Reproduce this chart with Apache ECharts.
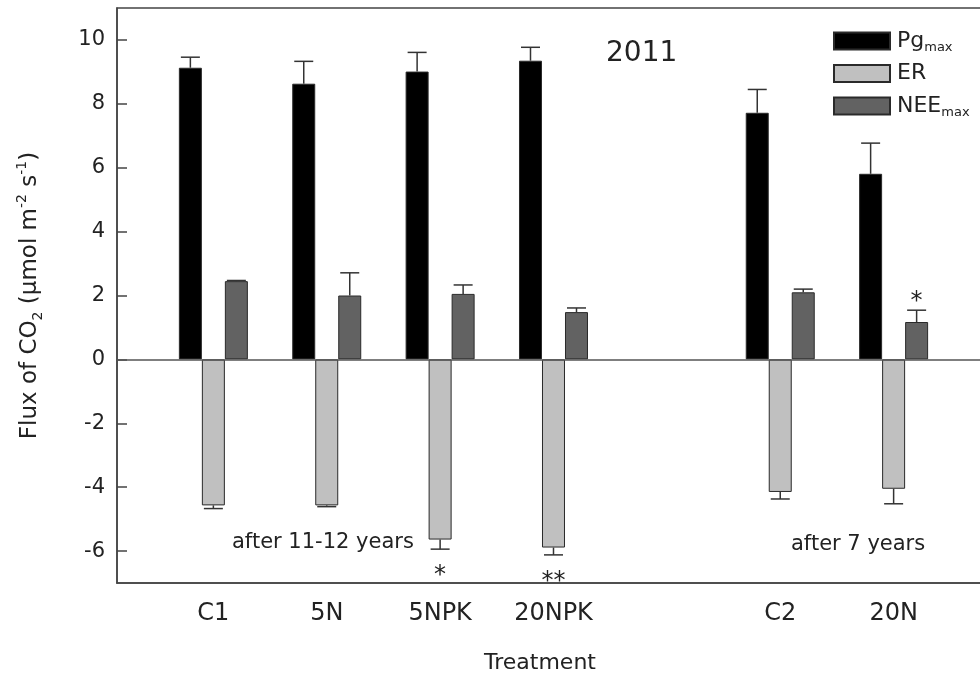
<!DOCTYPE html>
<html>
<head>
<meta charset="utf-8">
<script src="https://cdn.jsdelivr.net/npm/echarts@6/dist/echarts.min.js"></script>
<style>html,body{margin:0;padding:0;background:#fff}#chart{width:980px;height:676px}</style>
</head>
<body>
<div id="chart"></div>
<script>
// ---- data ----
const xCategories = ['C1', '5N', '5NPK', '20NPK', '', 'C2', '20N'];
const pgValues  = [9.13, 8.63, 9.01, 9.35, null, 7.72, 5.81];
const pgErrTop  = [9.46, 9.33, 9.61, 9.77, null, 8.45, 6.77];
const erValues  = [-4.57, -4.57, -5.64, -5.89, null, -4.15, -4.05];
const erErrEnd  = [-4.67, -4.61, -5.94, -6.12, null, -4.37, -4.52];
const neeValues = [2.45, 2.00, 2.05, 1.48, null, 2.10, 1.17];
const neeErrTop = [2.47, 2.71, 2.33, 1.61, null, 2.20, 1.54];
const erSig  = ['', '', '*', '**', '', '', ''];
const neeSig = ['', '', '', '', '', '', '*'];
const yTicks = [-6, -4, -2, 0, 2, 4, 6, 8, 10];
const seriesNames = ['Pgmax', 'ER', 'NEEmax'];
const legendLabels = { Pgmax: 'Pg{sub|max}', ER: 'ER', NEEmax: 'NEE{sub|max}' };
const yearText = '2011';
const groupNotes = ['after 11-12 years', 'after 7 years'];

// ---- helpers ----
const FONT = 'DejaVu Sans';
const TXT = '#222';
const slotOf = i => i + 1;
const xTickValues = xCategories.map((c, i) => c ? slotOf(i) : null).filter(v => v !== null);
function pairs(arr) { return arr.map((v, i) => v === null ? null : [slotOf(i), v]).filter(Boolean); }
function errData(vals, ends, sig) {
  return vals.map((v, i) => v === null ? null : [slotOf(i), v, ends[i], sig ? sig[i] : '']).filter(Boolean);
}
const BAR_W = 23;
function errSeries(data, dx, sigDir) {
  return {
    type: 'custom', silent: true, z: 5,
    data: data,
    encode: { x: 0, y: [1, 2] },
    renderItem: function (params, api) {
      const x = api.value(0);
      const p0 = api.coord([x, api.value(1)]);
      const p1 = api.coord([x, api.value(2)]);
      const cx = p0[0] + dx;
      const half = 9.5;
      const children = [
        { type: 'line', shape: { x1: cx, y1: p0[1], x2: cx, y2: p1[1] }, style: { stroke: '#333', lineWidth: 1.5 } },
        { type: 'line', shape: { x1: cx - half, y1: p1[1], x2: cx + half, y2: p1[1] }, style: { stroke: '#333', lineWidth: 1.5 } }
      ];
      const s = api.value(3);
      if (s) {
        children.push({
          type: 'text',
          style: { text: s, x: cx, y: p1[1] + sigDir, align: 'center', verticalAlign: 'middle',
                   font: '24px "' + FONT + '"', fill: TXT }
        });
      }
      return { type: 'group', children: children };
    }
  };
}

const chart = echarts.init(document.getElementById('chart'), null, { renderer: 'canvas' });
const barBase = { type: 'bar', barWidth: BAR_W, barGap: '0%', itemStyle: { borderColor: '#2a2a2a', borderWidth: 1 } };

chart.setOption({
  animation: false,
  backgroundColor: '#fff',
  grid: { left: 117, top: 8, width: 890, height: 575, outerBoundsMode: 'none', containLabel: false,
          show: true, borderColor: '#444', borderWidth: 1.5, backgroundColor: 'transparent' },
  legend: {
    orient: 'vertical', left: 828, top: 23, itemWidth: 56, itemHeight: 17, itemGap: 6.5,
    icon: 'rect', selectedMode: false,
    data: seriesNames,
    formatter: n => legendLabels[n],
    textStyle: { fontFamily: FONT, fontSize: 22, color: TXT, lineHeight: 26, padding: [0, 0, 0, 2],
      rich: { sub: { fontFamily: FONT, fontSize: 13, color: TXT, lineHeight: 13, verticalAlign: 'bottom' } } }
  },
  xAxis: {
    type: 'value', min: 0.15, max: 8,
    axisLine: { show: true, onZero: false, lineStyle: { color: '#444', width: 1.5 } },
    axisTick: { show: false },
    splitLine: { show: false },
    axisLabel: { customValues: xTickValues, formatter: v => xCategories[Math.round(v) - 1] || '',
      fontFamily: FONT, fontSize: 24, color: TXT, margin: 19 },
    name: 'Treatment', nameLocation: 'middle', nameGap: 69,
    nameTextStyle: { fontFamily: FONT, fontSize: 22, color: TXT, padding: [0, 44, 0, 0] }
  },
  yAxis: {
    type: 'value', min: -7, max: 11,
    axisLine: { show: true, lineStyle: { color: '#444', width: 1.5 } },
    axisTick: { show: true, inside: true, length: 10, customValues: yTicks, lineStyle: { color: '#444', width: 1.5 } },
    splitLine: { show: false },
    axisLabel: { customValues: yTicks, fontFamily: FONT, fontSize: 21, color: TXT, margin: 12 },
    name: 'Flux of CO{sub|2} (μmol m{sup|-2} s{sup|-1})',
    nameLocation: 'middle', nameRotate: 90, nameGap: 72,
    nameTextStyle: { fontFamily: FONT, fontSize: 23, color: TXT, lineHeight: 30,
      rich: {
        sub: { fontFamily: FONT, fontSize: 14, color: TXT, lineHeight: 14, verticalAlign: 'bottom' },
        sup: { fontFamily: FONT, fontSize: 14, color: TXT, lineHeight: 14, verticalAlign: 'top' }
      } }
  },
  graphic: [
    { type: 'text', left: 606, top: 40, style: { text: yearText, font: '28px "' + FONT + '"', fill: TXT } },
    { type: 'text', left: 232, top: 532, style: { text: groupNotes[0], font: '21px "' + FONT + '"', fill: TXT } },
    { type: 'text', left: 791, top: 534, style: { text: groupNotes[1], font: '21px "' + FONT + '"', fill: TXT } }
  ],
  series: [
    Object.assign({}, barBase, { name: seriesNames[0], data: pairs(pgValues), itemStyle: { color: '#000', borderColor: '#2a2a2a', borderWidth: 1 },
      markLine: { silent: true, symbol: 'none', label: { show: false }, lineStyle: { color: '#555', width: 1.5, type: 'solid' }, data: [{ yAxis: 0 }] } }),
    Object.assign({}, barBase, { name: seriesNames[1], data: pairs(erValues), itemStyle: { color: '#c0c0c0', borderColor: '#2a2a2a', borderWidth: 1 } }),
    Object.assign({}, barBase, { name: seriesNames[2], data: pairs(neeValues), itemStyle: { color: '#626262', borderColor: '#2a2a2a', borderWidth: 1 } }),
    errSeries(errData(pgValues, pgErrTop), -BAR_W, 0),
    errSeries(errData(erValues, erErrEnd, erSig), 0, 27),
    errSeries(errData(neeValues, neeErrTop, neeSig), BAR_W, -8)
  ]
});
</script>
</body>
</html>
